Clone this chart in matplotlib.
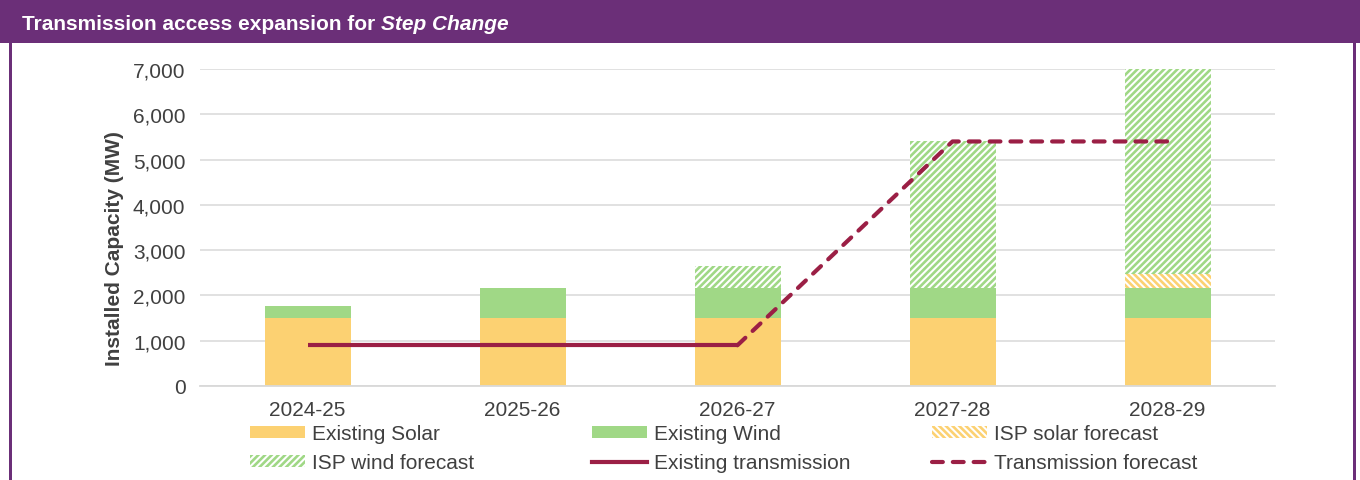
import matplotlib.pyplot as plt
import matplotlib.patches as patches
from matplotlib.lines import Line2D
from matplotlib.ticker import FuncFormatter
import numpy as np

plt.rcParams['font.family'] = ['Liberation Sans', 'DejaVu Sans']
plt.rcParams['hatch.linewidth'] = 1.9

# Datos por año financiero (MW)
anios = ['2024-25', '2025-26', '2026-27', '2027-28', '2028-29']
solar_existente = [1500, 1500, 1500, 1500, 1500]
eolica_existente = [265, 660, 660, 660, 660]
isp_solar = [0, 0, 0, 0, 310]
isp_eolica = [0, 0, 490, 3250, 4530]

# Capacidad de transmisión
trans_existente_x = [0, 1, 2]
trans_existente = [900, 900, 900]
trans_pronostico_x = [2, 3, 4]
trans_pronostico = [900, 5400, 5400]

COLOR_SOLAR = '#FCD172'
COLOR_EOLICA = '#A0D886'
COLOR_LINEA = '#9B1F45'
MORADO = '#6B2F78'
GRIS_TEXTO = '#404040'
RAYA_SOLAR = '\\\\\\\\\\'
RAYA_EOLICA = '/////'
TAM = 15

fig = plt.figure(figsize=(13.6, 4.81), dpi=100)

# Encabezado morado y marco lateral
fig.add_artist(patches.Rectangle((0, 1 - 44 / 481), 1, 44 / 481,
                                 transform=fig.transFigure, color=MORADO, lw=0))
fig.add_artist(patches.Rectangle((9 / 1360, 0), 3 / 1360, 1,
                                 transform=fig.transFigure, color=MORADO, lw=0))
fig.add_artist(patches.Rectangle((1353 / 1360, 0), 3 / 1360, 1,
                                 transform=fig.transFigure, color=MORADO, lw=0))

# Título: parte en negrita y parte en negrita cursiva
y_titulo = 1 - 22 / 481
t1 = fig.text(22 / 1360, y_titulo, 'Transmission access expansion for ',
              color='white', fontsize=TAM, fontweight='bold', va='center_baseline')
fig.canvas.draw()
caja = t1.get_window_extent()
fig.text(caja.x1 / fig.bbox.width, y_titulo, 'Step Change',
         color='white', fontsize=TAM, fontweight='bold', style='italic',
         va='center_baseline')

ax = fig.add_axes([200 / 1360, 1 - 387 / 481, 1075 / 1360, 317 / 481])
x = np.arange(len(anios))
ancho = 0.4

base = np.zeros(len(anios))
ax.bar(x, solar_existente, ancho, bottom=base, color=COLOR_SOLAR, lw=0, zorder=2)
base += solar_existente
ax.bar(x, eolica_existente, ancho, bottom=base, color=COLOR_EOLICA, lw=0, zorder=2)
base += eolica_existente
ax.bar(x, isp_solar, ancho, bottom=base, facecolor='white', edgecolor=COLOR_SOLAR,
       hatch=RAYA_SOLAR, lw=0, zorder=2)
base += isp_solar
ax.bar(x, isp_eolica, ancho, bottom=base, facecolor='white', edgecolor=COLOR_EOLICA,
       hatch=RAYA_EOLICA, lw=0, zorder=2)

ax.plot(trans_existente_x, trans_existente, color=COLOR_LINEA, lw=3,
        solid_capstyle='butt', zorder=3)
ax.plot(trans_pronostico_x, trans_pronostico, color=COLOR_LINEA, lw=3,
        dashes=(2.6, 2.4), dash_capstyle='round', zorder=3)

ax.set_xlim(-0.5, 4.5)
ax.set_ylim(0, 7000)
ax.set_yticks(np.arange(0, 7001, 1000))
ax.yaxis.set_major_formatter(FuncFormatter(lambda v, p: f'{v:,.0f}'))
ax.set_xticks(x)
ax.set_xticklabels(anios)
ax.tick_params(axis='both', length=0, labelsize=TAM, labelcolor=GRIS_TEXTO)
ax.tick_params(axis='y', pad=10.5)
ax.tick_params(axis='x', pad=10)
ax.grid(axis='y', color='#D9D9D9', lw=1.1, zorder=0)
ax.set_axisbelow(True)
for lado in ['top', 'right', 'left']:
    ax.spines[lado].set_visible(False)
ax.spines['bottom'].set_color('#D9D9D9')
ax.spines['bottom'].set_linewidth(1.3)
ax.set_ylabel('Installed Capacity (MW)', fontsize=TAM, fontweight='bold',
              color=GRIS_TEXTO)
ax.yaxis.set_label_coords(-0.0705, 0.438)

# Leyenda en tres columnas de ancho fijo
entradas = [
    [(patches.Patch(facecolor=COLOR_SOLAR, lw=0), 'Existing Solar'),
     (patches.Patch(facecolor='white', edgecolor=COLOR_EOLICA, hatch=RAYA_EOLICA, lw=0),
      'ISP wind forecast')],
    [(patches.Patch(facecolor=COLOR_EOLICA, lw=0), 'Existing Wind'),
     (Line2D([], [], color=COLOR_LINEA, lw=3), 'Existing transmission')],
    [(patches.Patch(facecolor='white', edgecolor=COLOR_SOLAR, hatch=RAYA_SOLAR, lw=0),
      'ISP solar forecast'),
     (Line2D([], [], color=COLOR_LINEA, lw=3, dashes=(2.6, 2.4), dash_capstyle='round'),
      'Transmission forecast')],
]
columnas_x = [250, 592, 932]
for col_x, col in zip(columnas_x, entradas):
    manejadores = [h for h, _ in col]
    etiquetas = [t for _, t in col]
    fig.legend(manejadores, etiquetas, loc='upper left',
               bbox_to_anchor=(col_x / 1360, 1 - 425 / 481), frameon=False,
               fontsize=TAM, labelcolor=GRIS_TEXTO, handlelength=2.64,
               handleheight=0.5, handletextpad=0.34, labelspacing=0.5,
               borderaxespad=0, borderpad=0)

fig.savefig('out.png', dpi=100)
